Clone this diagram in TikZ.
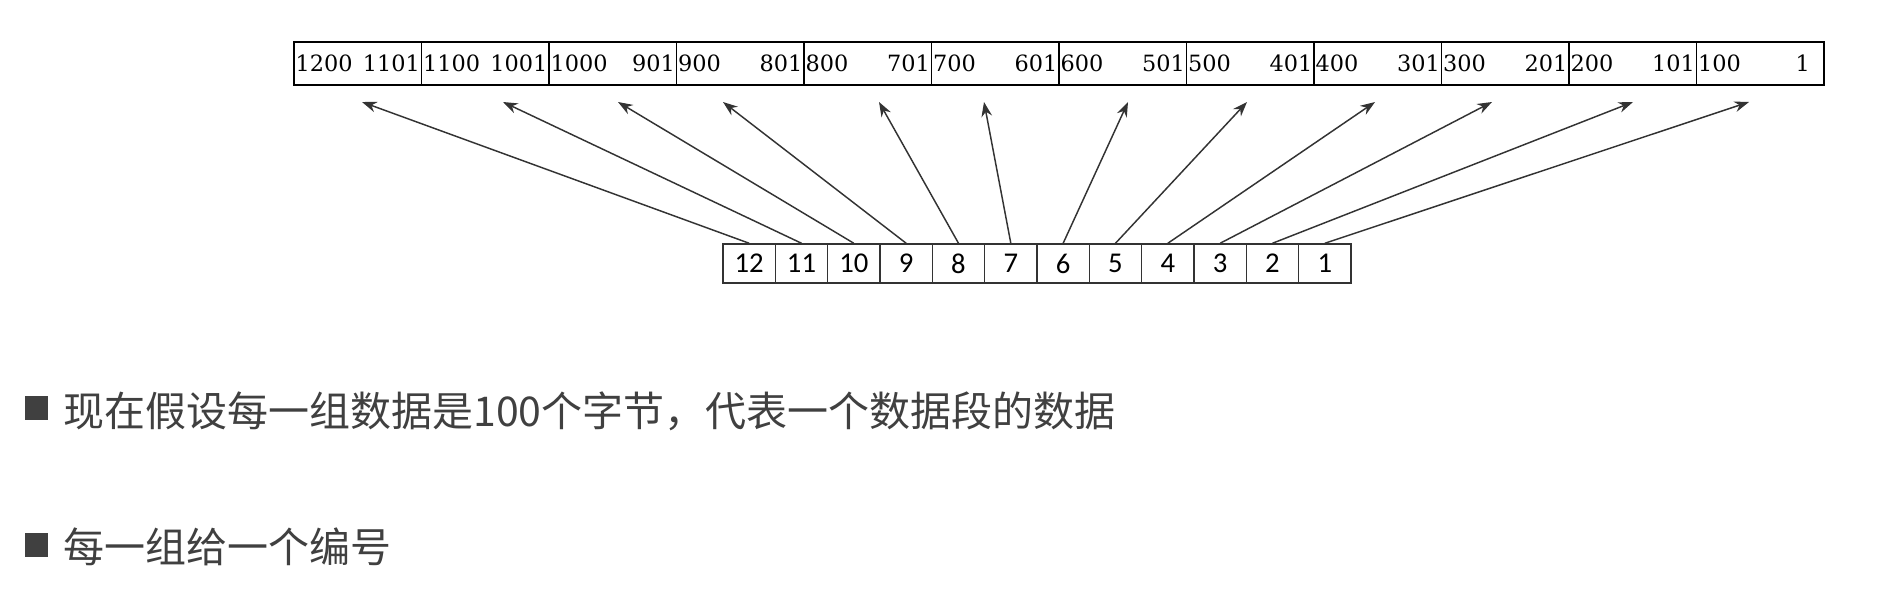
\documentclass[tikz,border=0pt]{standalone}
\usepackage{fontspec}
\usepackage{xcolor}
\usepackage{tikz}
\usetikzlibrary{arrows.meta, positioning}
\newfontfamily\cjkfont{Noto Sans CJK SC}
\newfontfamily\cellfont{DejaVu Serif}
\newfontfamily\numfont{Carlito}
\definecolor{textgray}{HTML}{404040}
\definecolor{linegray}{HTML}{333333}

\begin{document}
\begin{tikzpicture}[x=0.75pt, y=-0.75pt,
  grpcell/.style={draw=black, line width=1.1pt, minimum width=95.625pt, minimum height=32.25pt, inner sep=0pt},
  celltext/.style={font=\cellfont\fontsize{16.8}{16.8}\selectfont, inner sep=0pt},
  numbox/.style={draw=linegray, line width=1.1pt, minimum width=39.25pt, minimum height=29.25pt, inner sep=0pt, font=\numfont\fontsize{21.5}{21.5}\selectfont},
  ptr/.style={draw=linegray, line width=1.1pt, -{Stealth[length=11pt,width=8pt]}},
  bulletsq/.style={fill=textgray, minimum width=17.25pt, minimum height=18pt, inner sep=0pt},
  bodytext/.style={font=\cjkfont\fontsize{30.75}{30.75}\selectfont, text=textgray, inner sep=0pt, anchor=west}]
\useasboundingbox (0,0) rectangle (1898,606);
% top row: one cell per group of 100 bytes
\foreach \n in {1,...,12}{
  \pgfmathtruncatemacro{\hi}{100*\n}
  \pgfmathtruncatemacro{\lo}{100*\n-99}
  \pgfmathsetmacro{\rgap}{\n==1 ? 11 : 1.5}
  \node[grpcell] (grp\n) at ({357.75+127.5*(12-\n)},63.5) {};
  \node[celltext, anchor=west] (hi\n) at ([xshift=1.5pt]grp\n.west) {\hi};
  \node[celltext, anchor=east] (lo\n) at ([xshift=-\rgap pt]grp\n.east) {\lo};
}
% bottom row: group numbers
\foreach \n in {1,...,12}
  \node[numbox] (num\n) at ({749.17+52.33*(12-\n)},263.5) {\n};
% pointers from numbers up to their groups
\foreach \n/\tx in {12/362, 11/503, 10/618, 9/723, 8/879, 7/984, 6/1128, 5/1247, 4/1375, 3/1492, 2/1633, 1/1749}{
  \coordinate (tip\n) at (\tx,102);
  \draw[ptr] (num\n.north) -- (tip\n);
}
% bullet lines
\node[bulletsq] (sq1) at (36.5,408) {};
\node[bodytext] (line1) at (63,411) {现在假设每一组数据是100个字节，代表一个数据段的数据};
\node[bulletsq] (sq2) at (36.5,545) {};
\node[bodytext] (line2) at (63,547) {每一组给一个编号};
\end{tikzpicture}
\end{document}
